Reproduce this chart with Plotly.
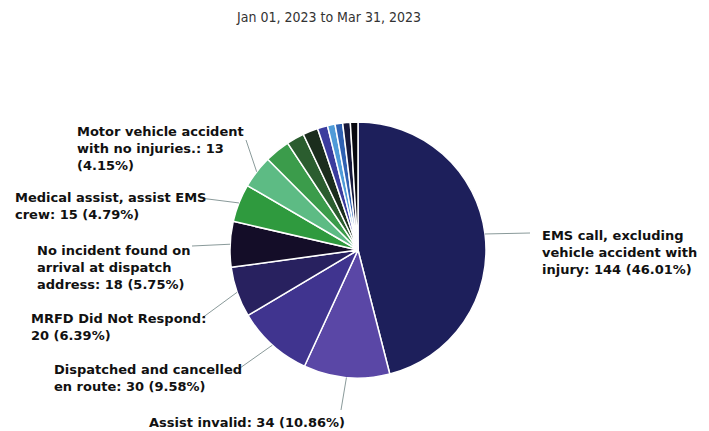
import math
import plotly.graph_objects as go

W, H = 709, 431

title_text = "Jan 01, 2023 to Mar 31, 2023"

categories = [
    "EMS call, excluding vehicle accident with injury",
    "Assist invalid",
    "Dispatched and cancelled en route",
    "MRFD Did Not Respond",
    "No incident found on arrival at dispatch address",
    "Medical assist, assist EMS crew",
    "Motor vehicle accident with no injuries.",
    "Other A", "Other B", "Other C", "Other D",
    "Other E", "Other F", "Other G", "Other H",
]
values = [144, 34, 30, 20, 18, 15, 13, 10, 7, 6, 4, 3, 3, 3, 3]
colors = [
    "#1d1f5b", "#5a47a6", "#40348f", "#28215f", "#140d28",
    "#2f9a3e", "#5dbb84", "#3b9c4b", "#2b5d2f", "#1b2d1d",
    "#3b3c9e", "#4f9bd8", "#2f60b2", "#16173a", "#08080f",
]

label_templates = {
    0: "EMS call, excluding<br>vehicle accident with<br>injury: {v} ({p})",
    1: "Assist invalid: {v} ({p})",
    2: "Dispatched and cancelled<br>en route: {v} ({p})",
    3: "MRFD Did Not Respond:<br>{v} ({p})",
    4: "No incident found on<br>arrival at dispatch<br>address: {v} ({p})",
    5: "Medical assist, assist EMS<br>crew: {v} ({p})",
    6: "Motor vehicle accident<br>with no injuries.: {v}<br>({p})",
}
# text anchor (left x, middle y) and leader end near text, in pixels
label_pos = {
    0: (540, 252, 530, 233),
    1: (147, 422, 341, 410),
    2: (52, 378, 240, 368),
    3: (29, 327, 202, 318),
    4: (35, 267, 192, 246),
    5: (13, 206, 200, 198),
    6: (75, 148, 246, 140),
}

cx, cy, R = 358, 250, 128
total = sum(values)

fig = go.Figure(go.Pie(
    labels=categories, values=values, sort=False, direction="clockwise",
    rotation=0, textinfo="none", hoverinfo="label+value+percent",
    marker=dict(colors=colors, line=dict(color="white", width=1.5)),
    domain=dict(x=[(cx - R) / W, (cx + R) / W], y=[1 - (cy + R) / H, 1 - (cy - R) / H]),
    showlegend=False,
))

annotations = [dict(text=title_text, x=328 / W, y=1 - 17 / H, xref="paper", yref="paper",
                    showarrow=False, xanchor="center", yanchor="middle",
                    font=dict(family="DejaVu Sans Condensed", size=14, color="#333333"))]
shapes = []
cum = 0
for i, v in enumerate(values):
    mid = (cum + v / 2) / total * 2 * math.pi
    cum += v
    if i not in label_templates:
        continue
    ex = cx + R * math.sin(mid)
    ey = cy - R * math.cos(mid)
    tx, ty, lx, ly = label_pos[i]
    pct = f"{v / total * 100:.2f}%"
    annotations.append(dict(
        text="<b>" + label_templates[i].format(v=v, p=pct).replace("<br>", "</b><br><b>") + "</b>",
        x=tx / W, y=1 - ty / H, xref="paper", yref="paper", showarrow=False,
        xanchor="left", yanchor="middle", align="left",
        font=dict(family="DejaVu Sans", size=13, color="#111111")))
    shapes.append(dict(type="line", xref="paper", yref="paper",
                       x0=lx / W, y0=1 - ly / H, x1=ex / W, y1=1 - ey / H,
                       line=dict(color="#8a9a9a", width=1)))

fig.update_layout(
    width=W, height=H, margin=dict(l=0, r=0, t=0, b=0),
    paper_bgcolor="white", plot_bgcolor="white",
    annotations=annotations, shapes=shapes,
)
fig.write_html("out.html", config={"displayModeBar": False},
               post_script="document.body.style.margin='0';")
